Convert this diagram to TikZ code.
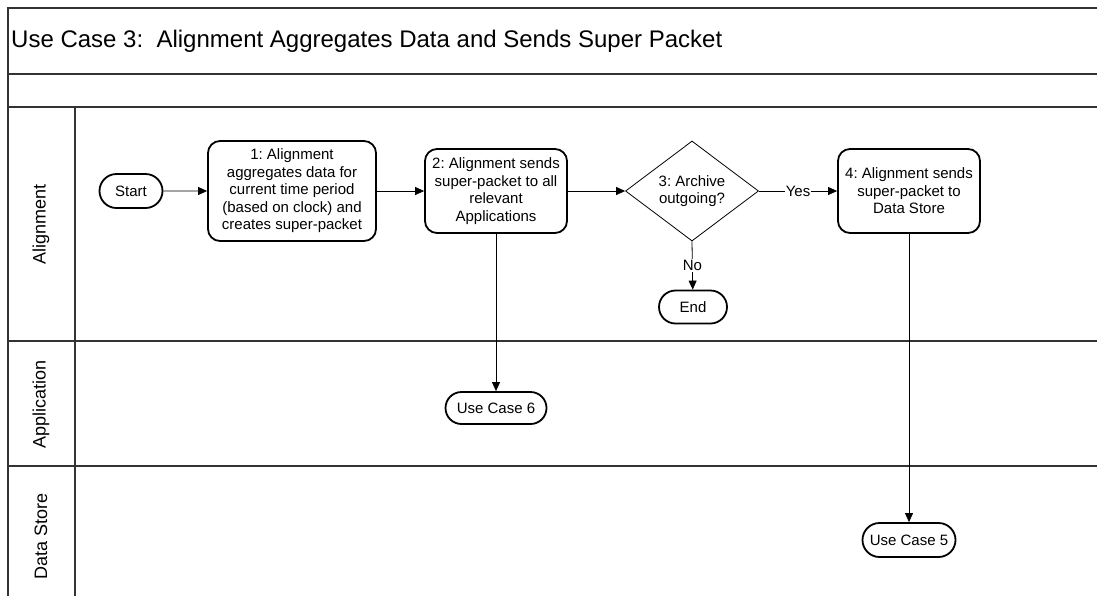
\documentclass[tikz,border=0pt]{standalone}
\usepackage{fontspec}
\setmainfont{Liberation Sans}
\usetikzlibrary{shapes.misc,shapes.geometric,arrows.meta}
\frenchspacing
\tikzset{
  lane/.style={line width=1.4pt, draw=black!80},
  term/.style={rounded rectangle, draw, line width=1.8pt, fill=white, font=\fontsize{15}{17.5}\selectfont, inner sep=0pt},
  proc/.style={rectangle, rounded corners=12pt, draw, line width=1.8pt, fill=white, font=\fontsize{15}{17.5}\selectfont, align=center, inner sep=0pt},
  decision/.style={diamond, draw, line width=0.8pt, fill=white, font=\fontsize{15}{17.5}\selectfont, align=center, inner sep=0pt, minimum width=133pt, minimum height=100pt, aspect=1.33},
  conn/.style={line width=0.8pt, -{Triangle[length=9pt,width=8pt]}},
  lbl/.style={fill=white, inner sep=1pt, font=\fontsize{15}{17.5}\selectfont},
  lanelabel/.style={rotate=90, font=\fontsize{18}{20}\selectfont, inner sep=0pt}
}
\begin{document}
\begin{tikzpicture}[x=1pt,y=-1pt]
\useasboundingbox (0,0) rectangle (1097,603);
% frame
\draw[lane] (1097,8) -- (8,8) -- (8,596);
\draw[lane] (8,74) -- (1097,74);
\draw[lane] (8,107) -- (1097,107);
\draw[lane] (75,107) -- (75,596);
\draw[lane] (8,341) -- (1097,341);
\draw[lane] (8,466) -- (1097,466);
% title
\node[anchor=west, font=\fontsize{24}{28}\selectfont, inner sep=0pt] (title) at (11,41) {Use Case 3:\ \ Alignment Aggregates Data and Sends Super Packet};
% lane labels
\node[lanelabel] (lA) at (41,224) {Alignment};
\node[lanelabel] (lB) at (41,404) {Application};
\node[lanelabel] (lC) at (41,536) {Data Store};
% nodes
\node[term, minimum width=63pt, minimum height=34pt] (start) at (131,191) {Start};
\node[proc, minimum width=168pt, minimum height=100pt] (p1) at (292,191) {1: Alignment\\aggregates data for\\current time period\\(based on clock) and\\creates super-packet};
\node[proc, minimum width=142pt, minimum height=84pt] (p2) at (496,191) {2: Alignment sends\\super-packet to all\\relevant\\Applications};
\node[decision] (d3) at (692,191) {3: Archive\\outgoing?};
\node[proc, minimum width=142pt, minimum height=84pt] (p4) at (909,191) {4: Alignment sends\\super-packet to\\Data Store};
\node[term, minimum width=68pt, minimum height=33pt] (end) at (693,307) {End};
\node[term, minimum width=101pt, minimum height=32pt] (uc6) at (496,408) {Use Case 6};
\node[term, minimum width=93pt, minimum height=34pt] (uc5) at (909,540) {Use Case 5};
% connectors
\draw[conn] (start) -- (p1);
\draw[conn] (p1) -- (p2);
\draw[conn] (p2) -- (d3.west);
\draw[conn] (d3.east) -- node[lbl] {Yes} (p4);
\draw[conn] (d3.south) -- node[lbl] {No} (end);
\draw[conn] (p2) -- (uc6);
\draw[conn] (p4) -- (uc5);
\end{tikzpicture}
\end{document}
